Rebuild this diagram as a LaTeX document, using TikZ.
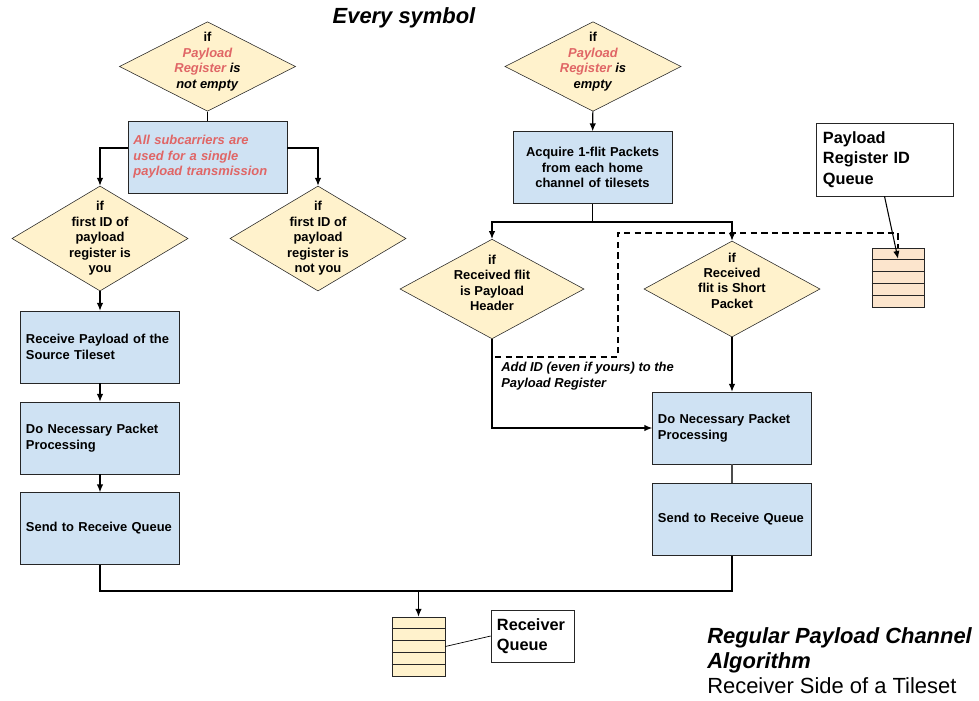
\documentclass[tikz,border=0pt]{standalone}
\usepackage{fontspec}
\setmainfont{Liberation Sans}
\usetikzlibrary{shapes.geometric, arrows.meta, calc}
\definecolor{decfill}{HTML}{FFF2CC}
\definecolor{procfill}{HTML}{CFE2F3}
\definecolor{qfill}{HTML}{FCE5CD}
\definecolor{redtxt}{HTML}{E06666}
\newcommand{\redit}[1]{{\color{redtxt}\itshape #1}}
\newcommand{\lift}{\rule[-9pt]{0pt}{0pt}}
\begin{document}
\begin{tikzpicture}[x=0.025cm, y=-0.025cm,
    every node/.style={font=\fontsize{9.2}{11}\selectfont\bfseries},
    procbox/.style={draw=black!85, rectangle, fill=procfill, minimum width=3.975cm,
                    minimum height=1.8cm, text width=3.7cm, inner xsep=0.1375cm, align=left},
    decision/.style={draw=black!85, diamond, fill=decfill, inner sep=-8pt, align=center},
    queue/.style={draw=black!85, rectangle, minimum width=1.3cm, minimum height=1.475cm},
    note/.style={draw=black!85, rectangle, fill=white, align=left, inner xsep=0.175cm,
                 font=\fontsize{11.6}{14.4}\selectfont\bfseries},
    arr/.style={-{Latex[length=5.5pt,width=4.5pt]}, line width=0.75pt},
    link/.style={line width=0.75pt},
    dashline/.style={line width=1.3pt, dash pattern=on 4.5pt off 3pt}]
    \useasboundingbox (0,0) rectangle (979,700);
    \node[font=\fontsize{15.6}{18}\selectfont\bfseries\itshape] (title) at (404,18) {Every symbol};
    % left branch
    \node[decision, minimum width=4.4cm, minimum height=2.1cm] (d1) at (207.5,66.5)
        {if\\ \redit{Payload}\\ \redit{Register} \textit{is}\\ \textit{not empty}\lift};
    \node[procbox] (b1) at (207.5,157)
        {\redit{All subcarriers are\\ used for a single\\ payload transmission}};
    \node[decision, minimum width=4.4cm, minimum height=2.625cm] (d2) at (100,238.5)
        {if\\ first ID of\\ payload\\ register is\\ you};
    \node[decision, minimum width=4.4cm, minimum height=2.625cm] (d3) at (318,238.5)
        {if\\ first ID of\\ payload\\ register is\\ not you};
    \node[procbox, minimum width=3.95cm] (r1) at (100,347) {Receive Payload of the\\ Source Tileset};
    \node[procbox, minimum width=3.95cm] (r2) at (100,438) {Do Necessary Packet\\ Processing};
    \node[procbox, minimum width=3.95cm] (r3) at (100,528.5) {Send to Receive Queue};
    % right branch
    \node[decision, minimum width=4.4cm, minimum height=2.125cm] (d4) at (593,66.5)
        {if\\ \redit{Payload}\\ \redit{Register} \textit{is}\\ \textit{empty}\lift};
    \node[procbox, align=center] (b2) at (592.5,167.5)
        {Acquire 1-flit Packets\\ from each home\\ channel of tilesets};
    \node[decision, minimum width=4.6cm, minimum height=2.3cm] (d5) at (492,289)
        {if\\ Received flit\\ is Payload\\ Header\lift};
    \node[decision, minimum width=4.4cm, minimum height=2.4cm] (d6) at (732,289)
        {if\\ Received\\ flit is Short\\ Packet\rule[-12pt]{0pt}{0pt}};
    \node[procbox] (r5) at (732,428) {Do Necessary Packet\\ Processing};
    \node[procbox] (r6) at (732,519.5) {Send to Receive Queue};
    \node[anchor=north west, align=left, inner sep=0pt,
          font=\fontsize{9.2}{11}\selectfont\bfseries\itshape] (addid) at (501,362)
        {Add ID (even if yours) to the\\ Payload Register};
    % queues
    \node[note, minimum width=3.425cm, minimum height=1.825cm, text width=3.075cm] (pb) at (884.5,159.5)
        {Payload\\ Register ID\\ Queue};
    \node[queue, fill=qfill] (pq) at (898,277.5) {};
    \node[queue, fill=decfill, minimum width=1.325cm] (qr) at (418.5,646.5) {};
    \node[note, minimum width=2.075cm, minimum height=1.3cm, text width=1.775cm, inner xsep=0.15cm] (rq) at (532.5,636)
        {Receiver\\ Queue};
    \foreach \q in {pq, qr}
        \foreach \i in {1,...,4}
            \draw[black!85] ($(\q.north west)!\i/5!(\q.south west)$) -- ($(\q.north east)!\i/5!(\q.south east)$);
    \node[anchor=west, align=left, inner sep=0pt, font=\fontsize{15.6}{17.7}\selectfont] (caption) at (707,661)
        {\textbf{\textit{Regular Payload Channel}}\\ \textbf{\textit{Algorithm}}\\ Receiver Side of a Tileset};
    % connectors
    \coordinate (split) at (592.5,222);
    \coordinate (join) at (418.5,591);
    \coordinate (bend) at (618,233);
    \draw[link] (d1) -- (b1);
    \draw[arr] ([yshift=0.225cm]b1.west) -| (d2.north);
    \draw[arr] ([yshift=0.225cm]b1.east) -| (d3.north);
    \foreach \a/\b in {d2/r1, r1/r2, r2/r3}
        \draw[arr] (\a) -- (\b);
    \draw[arr] (d4) -- (b2);
    \draw[link] (b2) -- (split);
    \draw[arr] (split) -| (d5.north);
    \draw[arr] (split) -| (d6.north);
    \draw[arr] (d5.south) |- (r5.west);
    \draw[dashline] (d5.south) -- ++(0,18) -| (bend) -| (pq.north);
    \draw[arr] (d6) -- (r5);
    \draw[link, black!70] (r5) -- (r6);
    \draw[link] (r3.south) |- (join) -| (r6.south);
    \draw[arr] (join) -- (qr.north);
    \draw[arr] (pb.south) -- ([yshift=-0.275cm]pq.north);
    \draw[link, line width=0.5pt] (qr.east) -- (rq.west);
\end{tikzpicture}
\end{document}
